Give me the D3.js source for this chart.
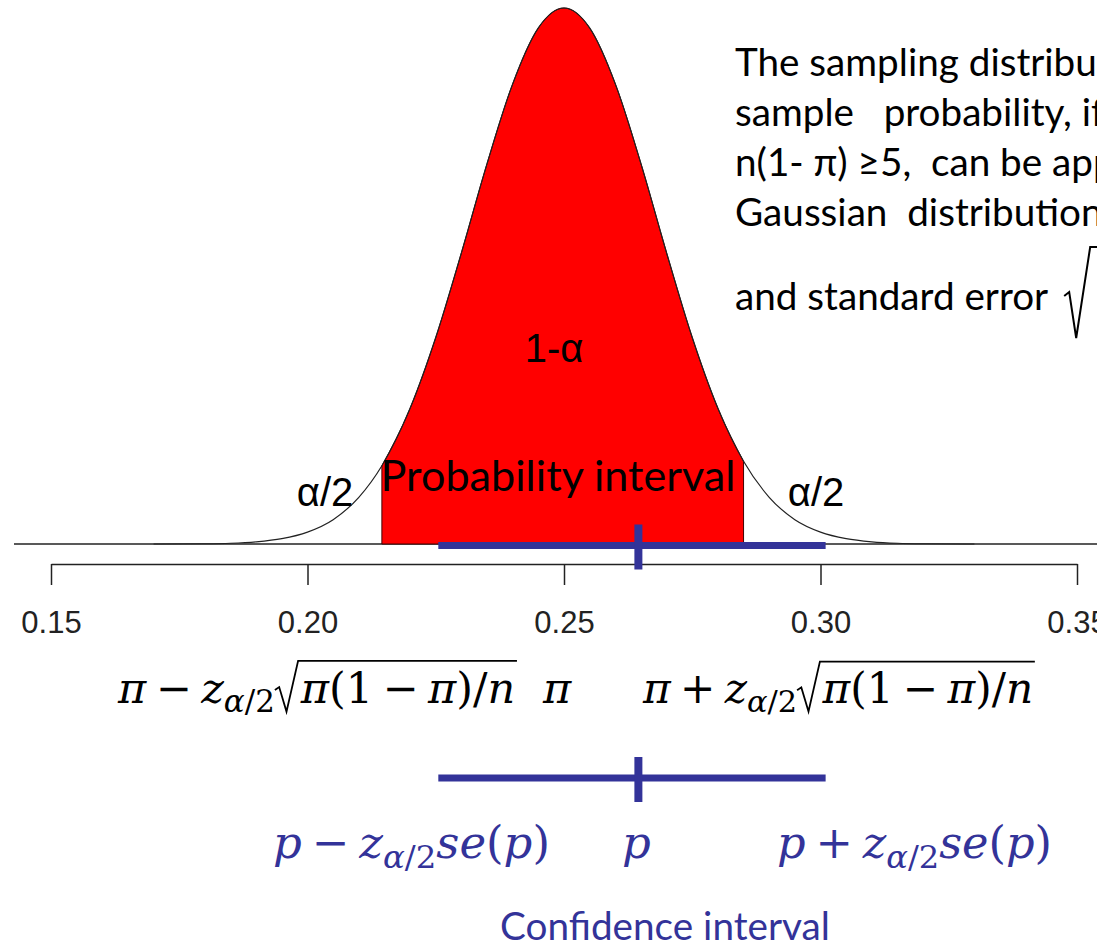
<!DOCTYPE html>
<html>
<head>
<meta charset="utf-8">
<script src="https://cdn.jsdelivr.net/npm/d3@7"></script>
<style>
  body { margin: 0; background: #fff; }
  svg { display: block; }
  text { white-space: pre; }
</style>
</head>
<body>
<div id="chart"></div>
<script>

// density of the sampling distribution
var densX = [0.170, 0.180, 0.185, 0.190, 0.195, 0.200, 0.205, 0.210, 0.2145, 0.220, 0.225, 0.230,
             0.235, 0.240, 0.245, 0.250, 0.255, 0.260, 0.265, 0.270, 0.275, 0.280, 0.285,
             0.290, 0.295, 0.300, 0.305, 0.310, 0.315, 0.320, 0.330];
var densY = [0.00, 0.01, 0.03, 0.09, 0.22, 0.49, 1.00, 1.92, 3.22, 5.58, 8.49, 11.97,
             15.64, 18.92, 21.22, 22.04, 21.22, 18.92, 15.64, 11.97, 8.49, 5.58, 3.40,
             1.92, 1.00, 0.49, 0.22, 0.09, 0.03, 0.01, 0.00];

// probability interval (red) and confidence interval (blue)
var probLo = 0.2145, probHi = 0.285;
var ciLo = 0.2255, ciP = 0.2645, ciHi = 0.301;

var tickValues = [0.15, 0.20, 0.25, 0.30, 0.35];
var tickLabels = ["0.15", "0.20", "0.25", "0.30", "0.35"];

var noteLines = [
  "The sampling distribution of the",
  "sample   probability, if n\u03c0 \u22655 and",
  "n(1- \u03c0) \u22655,  can be approximated by a",
  "Gaussian  distribution with mean \u03c0",
  "and standard error"
];

var chart_width = 1097, chart_height = 945;
var blue = "#333399";
var mathFont = "'DejaVu Serif', 'Liberation Serif', serif";
var textFont = "Lato, 'Open Sans', sans-serif";
var plotFont = "'Liberation Sans', Arial, sans-serif";

var svg = d3.select("#chart")
    .append("svg")
    .attr("width", chart_width)
    .attr("height", chart_height);

var x = d3.scaleLinear().domain([0.15, 0.35]).range([51, 1077]);
var y = d3.scaleLinear().domain([0, d3.max(densY)]).range([544, 8]);

var pts = densX.map(function(d, i) { return [d, densY[i]]; });

var line = d3.line()
    .x(function(d) { return x(d[0]); })
    .y(function(d) { return y(d[1]); })
    .curve(d3.curveMonotoneX);

var area = d3.area()
    .x(function(d) { return x(d[0]); })
    .y0(y(0))
    .y1(function(d) { return y(d[1]); })
    .curve(d3.curveMonotoneX);

// zero line
svg.append('line')
    .attr('x1', 14).attr('x2', chart_width)
    .attr('y1', y(0)).attr('y2', y(0))
    .attr('stroke', '#222').attr('stroke-width', 1.5);

// red area between probLo and probHi
svg.append('path')
    .datum(pts.filter(function(p) { return p[0] >= probLo - 1e-9 && p[0] <= probHi + 1e-9; }))
    .attr('d', area)
    .attr('fill', '#ff0000')
    .attr('stroke', '#400')
    .attr('stroke-width', 1);

svg.append('path')
    .datum(pts)
    .attr('d', line)
    .attr('fill', 'none')
    .attr('stroke', '#222')
    .attr('stroke-width', 1.2);

// x axis
var axis = svg.append('g')
    .attr('transform', 'translate(0,564)')
    .call(d3.axisBottom(x)
      .tickValues(tickValues)
      .tickFormat(function(d, i) { return tickLabels[i]; })
      .tickSize(21)
      .tickSizeOuter(0)
      .tickPadding(26));
axis.selectAll('path, line').attr('stroke', '#222').attr('stroke-width', 1.5);
axis.selectAll('text')
    .attr('font-family', plotFont)
    .attr('font-size', 31)
    .attr('fill', '#222');

// labels on the plot
function label(txt, cx, base, size, font, color) {
  return svg.append('text')
    .attr('x', cx).attr('y', base)
    .attr('text-anchor', 'middle')
    .attr('font-family', font)
    .attr('font-size', size)
    .attr('fill', color || '#000')
    .text(txt);
}

function fitWidth(t, w) {
  var size = +t.attr('font-size');
  var len = t.node().getComputedTextLength();
  t.attr('font-size', size * w / len);
}

label('1-\u03b1', 554, 362, 40, plotFont);
label('\u03b1/2', 325, 506, 40, plotFont);
label('\u03b1/2', 816, 506, 40, plotFont);
fitWidth(label('Probability interval', 558, 491, 40, textFont), 355);

// blue confidence bars
function ciBar(yc) {
  svg.append('line')
    .attr('x1', x(ciLo)).attr('x2', x(ciHi))
    .attr('y1', yc).attr('y2', yc)
    .attr('stroke', blue).attr('stroke-width', 7);
  svg.append('line')
    .attr('x1', x(ciP)).attr('x2', x(ciP))
    .attr('y1', yc - 21).attr('y2', yc + 24)
    .attr('stroke', blue).attr('stroke-width', 8);
}
ciBar(y(0) + 1.5);
ciBar(778);

// note on the right (runs off the page, as in the slide)
// font size set so that "The sampling distribu" ends at the page edge
var probe = svg.append('text').attr('font-family', textFont).attr('font-size', 40)
    .text('The sampling distribu');
var noteSize = 40 * 362 / probe.node().getComputedTextLength();
probe.remove();

var note = svg.append('g');
var lastEnd = 0;
noteLines.forEach(function(s, i) {
  var t = note.append('text')
    .attr('x', 735)
    .attr('y', i < 4 ? 76 + i * 50 : 310)
    .attr('font-family', textFont)
    .attr('font-size', noteSize)
    .attr('fill', '#000')
    .text(s);
  lastEnd = 735 + t.node().getComputedTextLength();
});
// radical after "standard error"
var rx = lastEnd + 16;
note.append('path')
  .attr('d', 'M' + rx + ',296 L' + (rx + 5) + ',292 L' + (rx + 12) + ',338 L' + (rx + 26) + ',247 L1100,247')
  .attr('fill', 'none').attr('stroke', '#000').attr('stroke-width', 2);

// math rows, laid out piece by piece; scaled to the width they take in the slide
function mathRow(pieces, x0, base, targetW, color, fixedSize) {
  function draw(size) {
    var g = svg.append('g');
    var cx = x0, radStart = null;
    pieces.forEach(function(p) {
      if (p.gap) { cx += p.gap * size; return; }
      if (p.rad === 'open') { radStart = cx; cx += 0.6 * size; return; }
      if (p.rad === 'close') {
        var top = base - 0.98 * size;
        g.append('path')
          .attr('d', 'M' + radStart + ',' + (base - 0.30 * size) +
                     ' L' + (radStart + 0.1 * size) + ',' + (base - 0.37 * size) +
                     ' L' + (radStart + 0.27 * size) + ',' + (base + 0.2 * size) +
                     ' L' + (radStart + 0.54 * size) + ',' + top +
                     ' L' + (cx + 0.04 * size) + ',' + top)
          .attr('fill', 'none').attr('stroke', color).attr('stroke-width', 1.8);
        cx += 0.04 * size;
        return;
      }
      var t = g.append('text')
        .attr('x', cx)
        .attr('y', base + (p.sub ? 0.22 * size : 0))
        .attr('font-family', mathFont)
        .attr('font-size', p.sub ? size * 0.72 : size)
        .attr('font-style', p.it ? 'italic' : 'normal')
        .attr('fill', color)
        .text(p.t);
      cx += t.node().getComputedTextLength();
    });
    return {g: g, w: cx - x0, size: size};
  }
  if (fixedSize) return draw(fixedSize);
  var first = draw(36);
  first.g.remove();
  return draw(36 * targetW / first.w);
}

function piInterval(op) {
  return [
    {t: '\u03c0', it: true}, {gap: 0.22}, {t: op}, {gap: 0.22},
    {t: 'z', it: true}, {t: '\u03b1', it: true, sub: true}, {t: '/2', sub: true},
    {rad: 'open'},
    {t: '\u03c0', it: true}, {t: '(1'}, {gap: 0.22}, {t: '\u2212'}, {gap: 0.22},
    {t: '\u03c0', it: true}, {t: ')/'}, {t: 'n', it: true},
    {rad: 'close'}
  ];
}
function pInterval(op) {
  return [
    {t: 'p', it: true}, {gap: 0.22}, {t: op}, {gap: 0.22},
    {t: 'z', it: true}, {t: '\u03b1', it: true, sub: true}, {t: '/2', sub: true},
    {t: 'se', it: true}, {t: '('}, {t: 'p', it: true}, {t: ')'}
  ];
}

var piRow = mathRow(piInterval('\u2212'), 118, 703, 399, '#000');
mathRow(piInterval('+'), 643, 703, 392, '#000');
mathRow([{t: '\u03c0', it: true}], 543, 703, null, '#000', piRow.size);

var pRow = mathRow(pInterval('\u2212'), 273, 858, 277, blue);
mathRow(pInterval('+'), 777, 858, 275, blue);
mathRow([{t: 'p', it: true}], 622, 858, null, blue, pRow.size);

fitWidth(label('Confidence interval', 665, 940, 34, textFont, blue), 330);

</script>
</body>
</html>
